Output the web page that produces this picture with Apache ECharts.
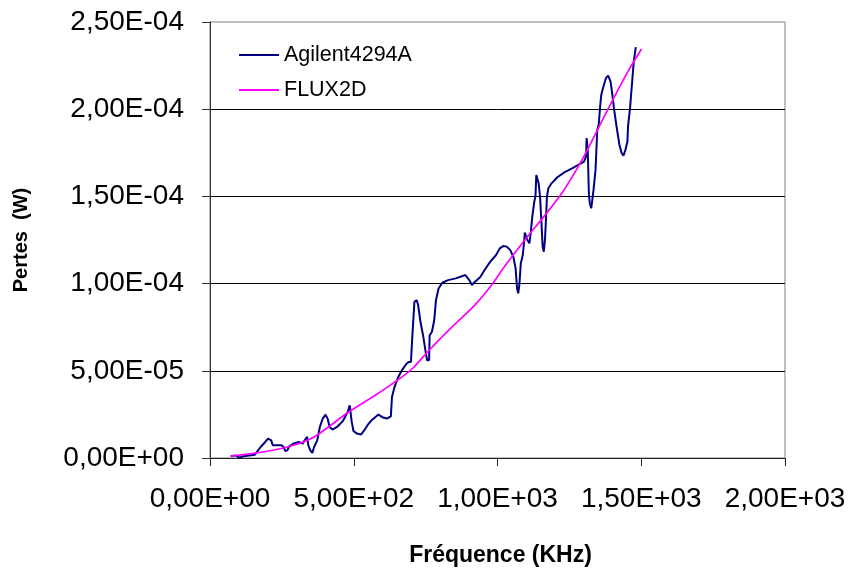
<!DOCTYPE html>
<html>
<head>
<meta charset="utf-8">
<script src="https://cdn.jsdelivr.net/npm/echarts@6/dist/echarts.min.js"></script>
<style>
html,body{margin:0;padding:0;background:#fff;}
#chart{width:856px;height:572px;}
</style>
</head>
<body>
<div id="chart"></div>
<script>
// Agilent4294A measurement: frequency (kHz)
var agilentFreq = [72,89,102,116,156,176,192,202,213,218,249,256,262,269,276,289,309,322,329,338,342,349,356,362,373,382,392,402,409,416,426,442,462,479,486,493,499,511,525,535,549,562,586,602,615,629,633,642,655,669,684,692,699,703,711,719,724,732,742,751,755,762,764,772,780,786,795,808,828,855,888,902,911,922,941,955,975,995,1008,1021,1032,1044,1055,1063,1068,1072,1076,1081,1088,1092,1095,1099,1104,1111,1116,1121,1128,1132,1135,1139,1143,1148,1153,1157,1161,1165,1168,1172,1177,1188,1208,1234,1261,1281,1301,1308,1310,1314,1318,1321,1326,1329,1334,1341,1347,1352,1357,1361,1368,1377,1385,1393,1398,1405,1414,1424,1432,1438,1445,1452,1454,1461,1467,1474,1481];
// Agilent4294A losses, in units of 1e-5 W
var agilentLoss = [0.10,0.15,0.02,0.10,0.19,0.63,0.92,1.11,1.01,0.73,0.73,0.63,0.40,0.44,0.67,0.82,0.92,0.82,1.01,1.21,0.73,0.44,0.29,0.63,1.01,1.78,2.26,2.49,2.26,1.78,1.63,1.78,2.12,2.64,3.02,2.07,1.55,1.40,1.34,1.55,1.91,2.16,2.49,2.32,2.26,2.39,3.50,4.08,4.65,5.07,5.42,5.51,5.51,6.76,8.96,9.05,8.77,7.81,6.95,5.99,5.61,5.61,7.04,7.24,7.91,9.05,9.72,10.05,10.20,10.30,10.49,10.20,9.92,10.11,10.39,10.78,11.26,11.64,12.02,12.16,12.12,11.93,11.54,10.87,9.72,9.44,9.92,11.16,11.64,12.31,12.92,12.98,12.50,12.31,12.98,13.84,14.70,14.99,16.23,16.27,15.75,14.99,13.46,12.12,11.83,12.50,13.46,14.99,15.47,15.75,16.10,16.39,16.62,16.81,17.00,17.29,18.34,17.57,15.08,14.61,14.32,14.70,15.37,16.52,18.82,19.10,20.16,20.83,21.27,21.78,21.92,21.59,21.02,20.06,19.01,17.96,17.48,17.34,17.67,18.15,19.01,20.06,21.31,22.74,23.56];
// FLUX2D simulation
var fluxFreq = [72,162,269,362,482,575,668,708,762,842,921,975,1028,1095,1161,1228,1294,1348,1401,1454,1501];
var fluxLoss = [0.10,0.29,0.63,1.21,2.64,3.60,4.65,5.19,6.18,7.52,8.77,9.82,11.06,12.50,13.84,15.28,17.09,18.82,20.54,22.17,23.45];
var seriesNames = ['Agilent4294A', 'FLUX2D'];

function pairs(xs, ys) {
  return xs.map(function (x, i) { return [x, ys[i] * 1e-5]; });
}
function sci(v) {
  var s = Number(v).toExponential(2);
  var parts = s.split('e');
  var mant = parts[0].replace('.', ',');
  var exp = parseInt(parts[1], 10);
  var sign = exp < 0 ? '-' : '+';
  var a = Math.abs(exp);
  return mant + 'E' + sign + (a < 10 ? '0' + a : a);
}

var chart = echarts.init(document.getElementById('chart'), null, {renderer: 'canvas'});
var font = '"Liberation Sans", Arial, sans-serif';
chart.setOption({
  animation: false,
  backgroundColor: '#fff',
  textStyle: {fontFamily: font},
  grid: {left: 210, right: 71, top: 22, bottom: 114, show: true, borderColor: '#808080', borderWidth: 1, backgroundColor: 'transparent'},
  legend: {
    orient: 'vertical', left: 239, top: 44, padding: 0, itemWidth: 40, itemHeight: 2, itemGap: 13, icon: 'rect',
    textStyle: {fontFamily: font, fontSize: 21.5, color: '#000'},
    data: seriesNames
  },
  xAxis: {
    type: 'value', min: 0, max: 2000, interval: 500,
    name: 'Fréquence (KHz)', nameLocation: 'middle', nameGap: 86,
    nameTextStyle: {fontFamily: font, fontSize: 23, fontWeight: 'bold', color: '#000', padding: [0, 0, 0, 6]},
    axisLine: {show: true, onZero: false, lineStyle: {color: '#222', width: 1}},
    axisTick: {show: true, inside: false, length: 8, lineStyle: {color: '#222'}},
    axisLabel: {margin: 27, fontSize: 28, color: '#000', fontFamily: font, formatter: sci},
    splitLine: {show: false}
  },
  yAxis: {
    type: 'value', min: 0, max: 2.5e-4, interval: 5e-5,
    name: 'Pertes  (W)', nameLocation: 'middle', nameGap: 179, nameRotate: 90,
    nameTextStyle: {fontFamily: font, fontSize: 20, fontWeight: 'bold', color: '#000'},
    axisLine: {show: true, lineStyle: {color: '#333', width: 1}},
    axisTick: {show: true, inside: false, length: 8, lineStyle: {color: '#333'}},
    axisLabel: {margin: 26, fontSize: 28, color: '#000', fontFamily: font, formatter: sci},
    splitLine: {show: true, showMinLine: false, showMaxLine: false, lineStyle: {color: '#000', width: 1}}
  },
  series: [
    {name: seriesNames[0], type: 'line', data: pairs(agilentFreq, agilentLoss), symbol: 'none', smooth: false,
     lineStyle: {color: '#000080', width: 2}, itemStyle: {color: '#000080'}, z: 3},
    {name: seriesNames[1], type: 'line', data: pairs(fluxFreq, fluxLoss), symbol: 'none', smooth: 0.3,
     lineStyle: {color: '#FF00FF', width: 1.7}, itemStyle: {color: '#FF00FF'}, z: 4}
  ]
});
</script>
</body>
</html>
